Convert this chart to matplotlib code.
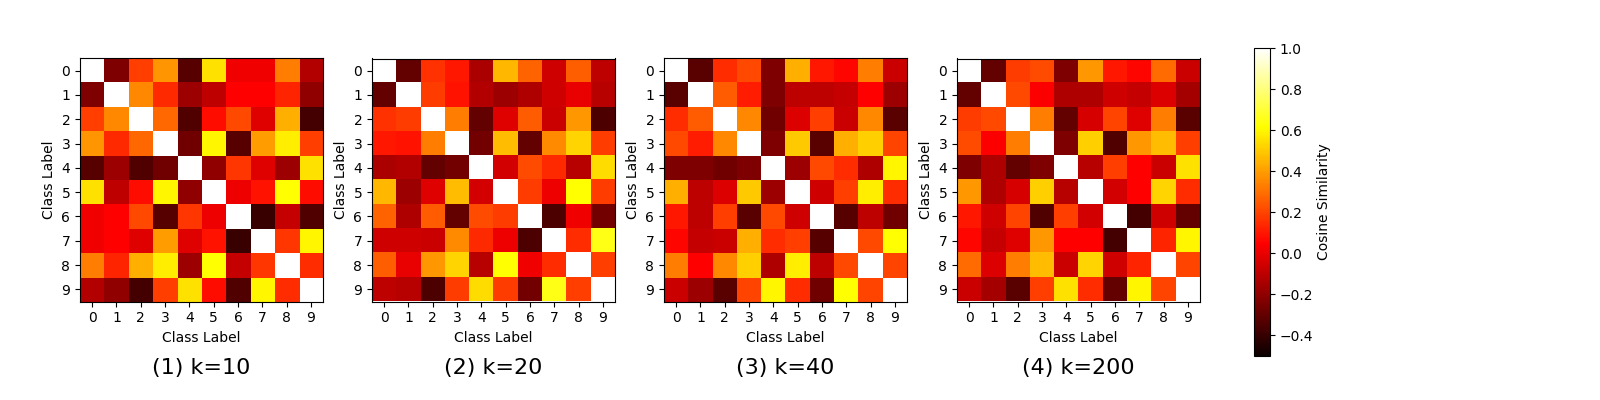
import numpy as np
import matplotlib
matplotlib.use("Agg")
import matplotlib.pyplot as plt

class_labels = [0, 1, 2, 3, 4, 5, 6, 7, 8, 9]
titles = ["(1) k=10", "(2) k=20", "(3) k=40", "(4) k=200"]
cbar_ticks = [-0.4, -0.2, 0.0, 0.2, 0.4, 0.6, 0.8, 1.0]

k10 = [
    [1.00, -.24, .19, .38, -.33, .55, .02, .02, .33, -.12],
    [-.24, 1.00, .35, .14, -.17, -.09, .05, .05, .13, -.20],
    [.19, .35, 1.00, .28, -.34, .08, .21, -.02, .44, -.37],
    [.38, .14, .28, 1.00, -.27, .60, -.33, .40, .58, .19],
    [-.33, -.17, -.34, -.27, 1.00, -.20, .17, -.02, -.17, .55],
    [.55, -.09, .08, .60, -.20, 1.00, .01, .09, .62, .08],
    [.02, .05, .21, -.33, .17, .01, 1.00, -.39, -.08, -.34],
    [.02, .05, -.02, .40, -.02, .09, -.39, 1.00, .17, .60],
    [.33, .13, .44, .58, -.17, .62, -.08, .17, 1.00, .15],
    [-.12, -.20, -.37, .19, .55, .08, -.34, .60, .15, 1.00],
]
k20 = [
    [1.00, -.30, .16, .10, -.14, .46, .27, -.06, .26, -.10],
    [-.30, 1.00, .18, .09, -.12, -.17, -.13, -.06, .00, -.11],
    [.16, .18, 1.00, .33, -.30, -.02, .25, -.07, .39, -.35],
    [.10, .09, .33, 1.00, -.26, .47, -.30, .36, .52, .18],
    [-.14, -.12, -.30, -.26, 1.00, -.05, .22, .14, -.11, .54],
    [.46, -.17, -.02, .47, -.05, 1.00, .18, .01, .62, .18],
    [.27, -.13, .25, -.30, .22, .18, 1.00, -.35, .02, -.26],
    [-.06, -.06, -.07, .36, .14, .01, -.35, 1.00, .15, .65],
    [.26, .00, .39, .52, -.11, .62, .02, .15, 1.00, .19],
    [-.10, -.11, -.35, .18, .54, .18, -.26, .65, .19, 1.00],
]
k40 = [
    [1.00, -.32, .15, .21, -.24, .44, .10, .06, .33, -.07],
    [-.32, 1.00, .25, .11, -.24, -.10, -.10, -.08, .05, -.17],
    [.15, .25, 1.00, .35, -.27, -.03, .19, -.07, .35, -.32],
    [.21, .11, .35, 1.00, -.24, .50, -.32, .44, .51, .20],
    [-.24, -.24, -.27, -.24, 1.00, -.17, .21, .15, -.13, .60],
    [.44, -.10, -.03, .50, -.17, 1.00, -.06, .19, .58, .15],
    [.10, -.10, .19, -.32, .21, -.06, 1.00, -.33, -.10, -.27],
    [.06, -.08, -.07, .44, .15, .19, -.33, 1.00, .21, .62],
    [.33, .05, .35, .51, -.13, .58, -.10, .21, 1.00, .20],
    [-.07, -.17, -.32, .20, .60, .15, -.27, .62, .20, 1.00],
]
k200 = [
    [1.00, -.30, .18, .22, -.24, .39, .10, .06, .29, -.07],
    [-.30, 1.00, .21, .04, -.13, -.13, -.06, -.08, -.03, -.15],
    [.18, .21, 1.00, .33, -.30, -.04, .20, -.02, .33, -.32],
    [.22, .04, .33, 1.00, -.24, .51, -.34, .39, .47, .19],
    [-.24, -.13, -.30, -.24, 1.00, -.11, .19, .05, -.07, .55],
    [.39, -.13, -.04, .51, -.11, 1.00, -.05, .05, .52, .15],
    [.10, -.06, .20, -.34, .19, -.05, 1.00, -.37, -.06, -.30],
    [.06, -.08, -.02, .39, .05, .05, -.37, 1.00, .13, .60],
    [.29, -.03, .33, .47, -.07, .52, -.06, .13, 1.00, .20],
    [-.07, -.15, -.32, .19, .55, .15, -.30, .60, .20, 1.00],
]
matrices = [k10, k20, k40, k200]

fig = plt.figure(figsize=(16, 4), dpi=100)

# left edge of each heatmap, in pixels of the 1600x400 figure
lefts = [80, 372, 664, 957]
for left, matriz, titulo in zip(lefts, matrices, titles):
    ax = fig.add_axes([left / 1600, 98 / 400, 243 / 1600, 244 / 400])
    im = ax.imshow(np.array(matriz), cmap="hot", vmin=-0.5, vmax=1.0)
    ax.set_xticks(range(10))
    ax.set_yticks(range(10))
    ax.set_xticklabels(class_labels)
    ax.set_yticklabels(class_labels)
    ax.set_xlabel("Class Label")
    ax.set_ylabel("Class Label")
    ax.text(0.5, -0.275, titulo, fontsize=16, ha="center", va="center", transform=ax.transAxes)

cax = fig.add_axes([1254 / 1600, 44 / 400, 16 / 1600, 308 / 400])
cbar = fig.colorbar(im, cax=cax)
cbar.set_ticks(cbar_ticks)
cbar.set_label("Cosine Similarity", labelpad=3)

fig.savefig("out.png", dpi=100)
